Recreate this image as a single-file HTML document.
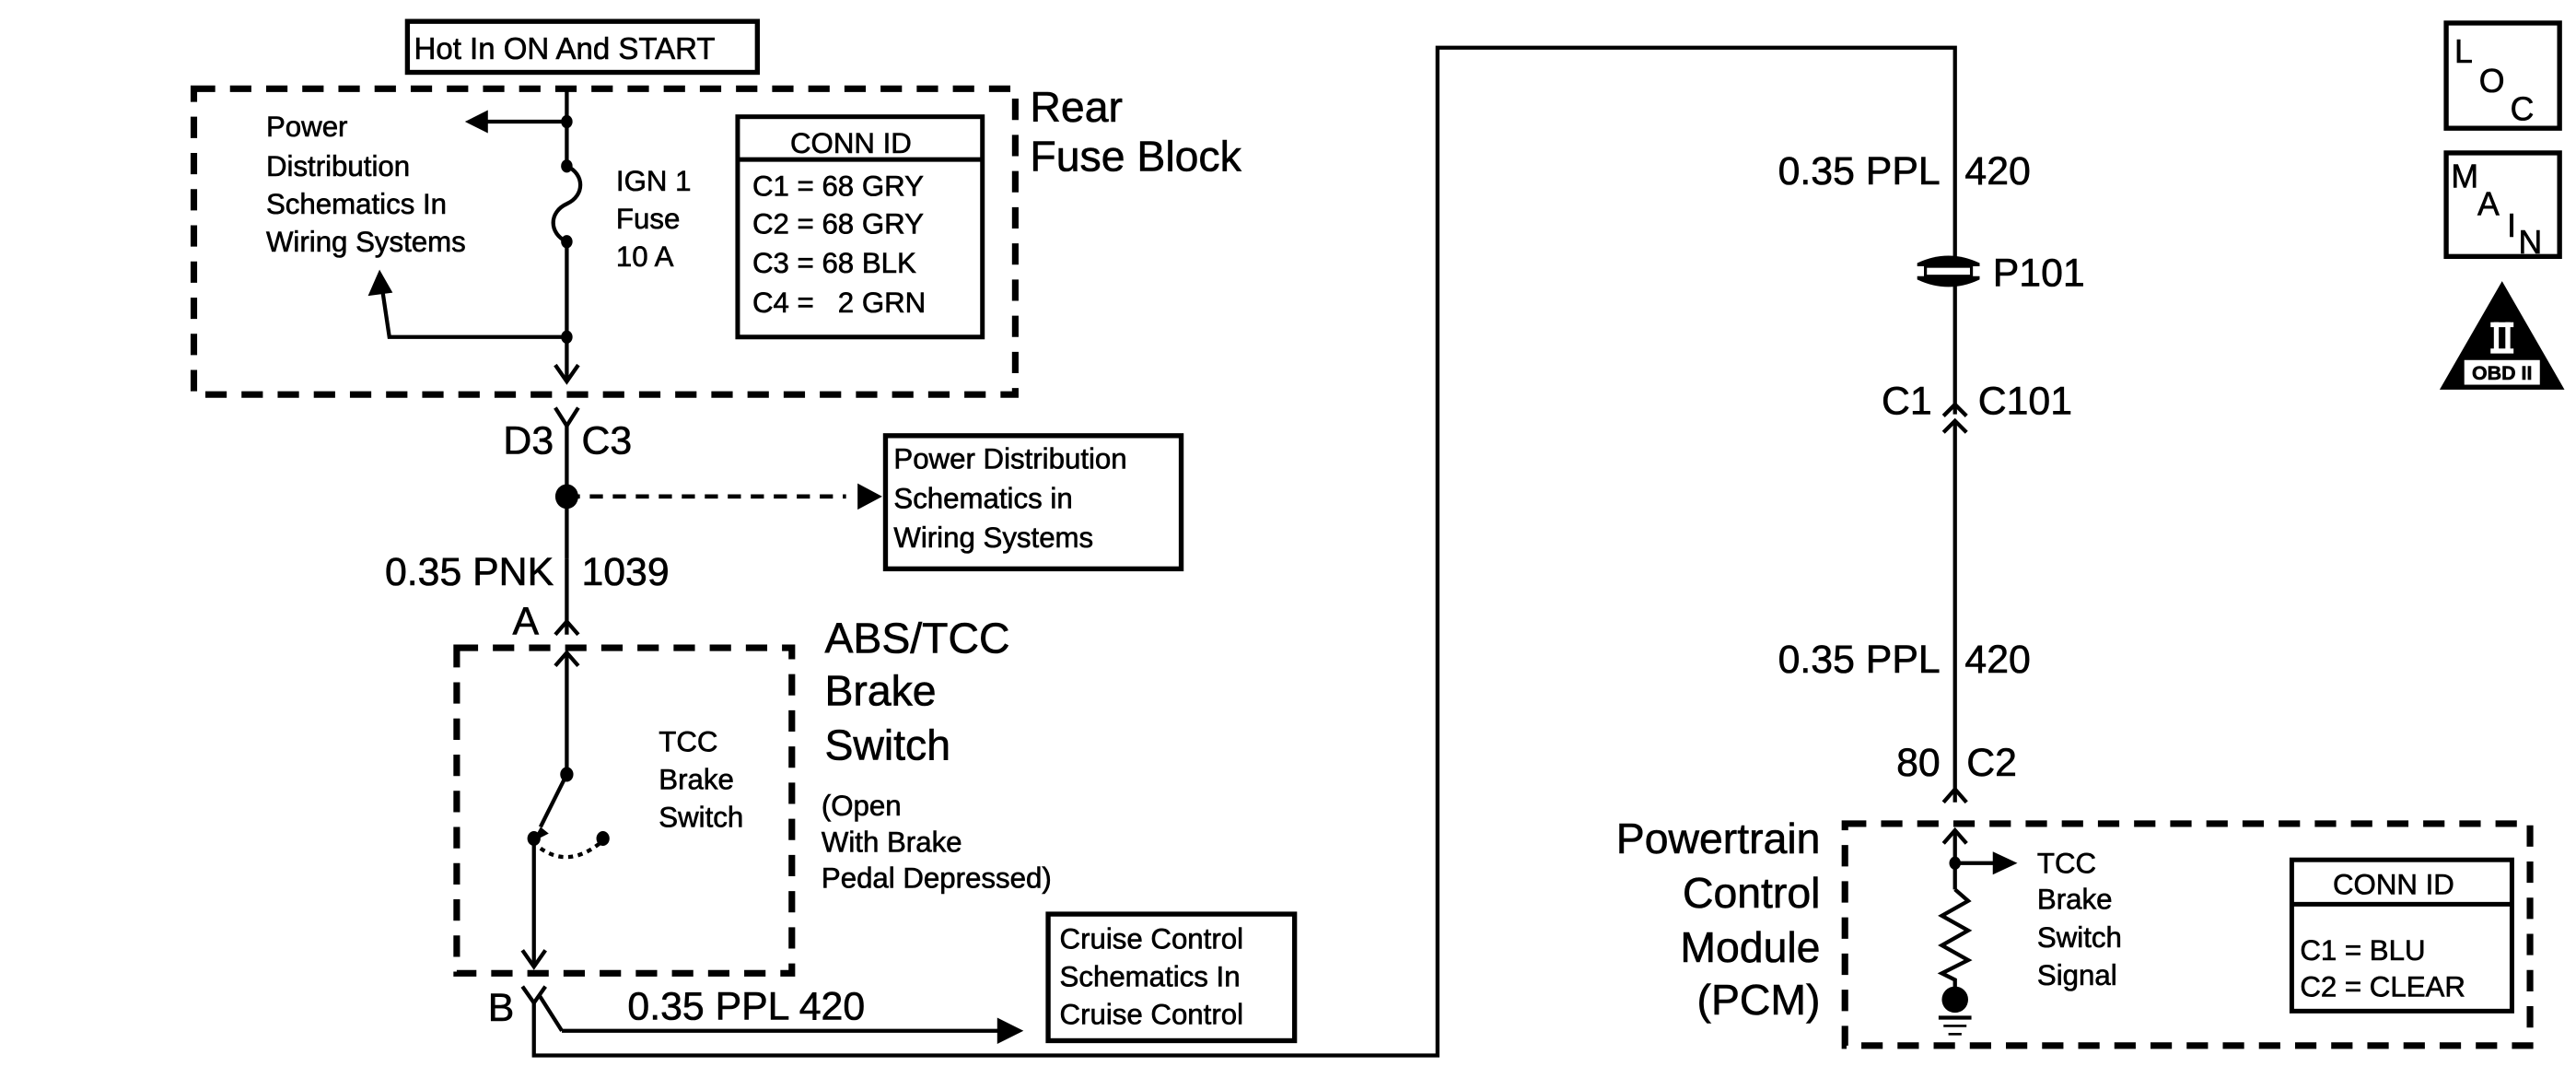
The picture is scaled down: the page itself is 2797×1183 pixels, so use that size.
<!DOCTYPE html>
<html><head><meta charset="utf-8"><style>
html,body{margin:0;padding:0;background:#fff;}
svg{display:block;}
text{font-family:"Liberation Sans",sans-serif;fill:#000;stroke:#000;stroke-width:0.35;}
</style></head><body>
<svg width="2797" height="1183" viewBox="0 0 1568 663" preserveAspectRatio="none" xmlns="http://www.w3.org/2000/svg">
<g fill="none" stroke="#000" stroke-width="2.4">
<rect x="248" y="13" width="213" height="31" stroke-width="3"/>
<rect x="118" y="54" width="500" height="186" stroke-width="4" stroke-dasharray="13 9"/>
<line x1="345" y1="54" x2="345" y2="101"/>
<path d="M345,101 C356,106 356,119 345,124 C334,129 334,142 345,147"/>
<line x1="345" y1="147" x2="345" y2="231"/>
<polyline points="338,222 345,232 352,222"/>
<line x1="345" y1="74" x2="295" y2="74"/>
<polyline points="345,205 237,205 233,178"/>
<rect x="449" y="71" width="149" height="134" stroke-width="2.8"/>
<line x1="449" y1="97" x2="598" y2="97" stroke-width="2.8"/>
<polyline points="338,248 345,259 352,248"/>
<line x1="345" y1="258" x2="345" y2="340"/>
<line x1="345" y1="302" x2="515" y2="302" stroke-dasharray="8 6" stroke-width="2.6"/>
<rect x="539" y="265" width="180" height="81" stroke-width="3"/>
<line x1="345" y1="340" x2="345" y2="386"/>
<polyline points="338,386 345,378 352,386"/>
<rect x="278" y="394" width="204" height="198" stroke-width="4" stroke-dasharray="13 9"/>
<polyline points="338,405 345,397 352,405"/>
<line x1="345" y1="397" x2="345" y2="471"/>
<line x1="345" y1="471" x2="329" y2="503"/>
<line x1="325" y1="510" x2="325" y2="587"/>
<polyline points="318,578 325,588 332,578"/>
<path d="M329,516 Q346,528 365,513" stroke-dasharray="3 3"/>
<polyline points="318,600 325,610 332,600"/>
<line x1="328" y1="605" x2="342" y2="627"/>
<line x1="342" y1="627" x2="608" y2="627"/>
<polyline points="325,610 325,642 875,642 875,29 1190,29 1190,160"/>
<rect x="638" y="556" width="150" height="77" stroke-width="3"/>
<line x1="1190" y1="170" x2="1190" y2="252"/>
<polyline points="1183,253 1190,246 1197,253"/>
<polyline points="1183,263 1190,256 1197,263"/>
<line x1="1190" y1="256" x2="1190" y2="488"/>
<polyline points="1183,488 1190,480 1197,488"/>
<rect x="1123" y="501" width="417" height="135" stroke-width="4" stroke-dasharray="13 9"/>
<polyline points="1183,513 1190,505 1197,513"/>
<line x1="1190" y1="505" x2="1190" y2="541"/>
<line x1="1190" y1="525" x2="1214" y2="525"/>
<polyline points="1190,541 1198,548 1182,557 1198,566 1182,575 1198,584 1182,592 1190,596 1190,605"/>
<line x1="1180" y1="619" x2="1200" y2="619"/>
<line x1="1183" y1="624" x2="1197" y2="624" stroke-width="1.5"/>
<line x1="1186" y1="629" x2="1194" y2="629" stroke-width="1.5"/>
<rect x="1395" y="523" width="134" height="92" stroke-width="2.8"/>
<line x1="1395" y1="550" x2="1529" y2="550" stroke-width="2.8"/>
<rect x="1489" y="14" width="69" height="64" stroke-width="3"/>
<rect x="1489" y="93" width="69" height="63" stroke-width="3"/>
</g>
<g fill="#000">
<path d="M283,74 L297,67 L297,81 Z"/>
<path d="M231,164 L224,180 L239,178 Z"/>
<path d="M537,302 L522,294 L522,310 Z"/>
<path d="M623,627 L607,619 L607,635 Z"/>
<path d="M1228,525 L1213,518 L1213,532 Z"/>
<path d="M329,503 L324,512 L334,507 Z"/>
<ellipse cx="345" cy="74" rx="3.5" ry="4"/>
<ellipse cx="345" cy="101" rx="3.5" ry="4"/>
<ellipse cx="345" cy="147" rx="3.5" ry="4"/>
<ellipse cx="345" cy="205" rx="3.5" ry="4"/>
<ellipse cx="345" cy="302" rx="7" ry="7.5"/>
<ellipse cx="345" cy="471" rx="4" ry="4.5"/>
<ellipse cx="325" cy="510" rx="4" ry="4.5"/>
<ellipse cx="367" cy="510" rx="4" ry="4.5"/>
<ellipse cx="1190" cy="525" rx="3.5" ry="4"/>
<ellipse cx="1190" cy="608" rx="8" ry="8"/>
<path d="M1167,160 Q1186,151 1205,160 L1205,162 L1167,162 Z"/>
<path d="M1167,168 L1205,168 L1205,170 Q1186,179 1167,170 Z"/>
<rect x="1172" y="162" width="28" height="6" fill="none" stroke="#000" stroke-width="1.8"/>
<path d="M1523,171 L1561,237 L1485,237 Z"/>
</g>
<g font-size="17.5">
<text x="252" y="36" font-size="18.5">Hot In ON And START</text>
<text x="162" y="83">Power</text>
<text x="162" y="107">Distribution</text>
<text x="162" y="130">Schematics In</text>
<text x="162" y="153">Wiring Systems</text>
<text x="375" y="116">IGN 1</text>
<text x="375" y="139">Fuse</text>
<text x="375" y="162">10 A</text>
<text x="481" y="93">CONN ID</text>
<text x="458" y="119">C1 = 68 GRY</text>
<text x="458" y="142">C2 = 68 GRY</text>
<text x="458" y="166">C3 = 68 BLK</text>
<text x="458" y="190" xml:space="preserve">C4 =   2 GRN</text>
<text x="544" y="285">Power Distribution</text>
<text x="544" y="309">Schematics in</text>
<text x="544" y="333">Wiring Systems</text>
<text x="401" y="457">TCC</text>
<text x="401" y="480">Brake</text>
<text x="401" y="503">Switch</text>
<text x="500" y="496">(Open</text>
<text x="500" y="518">With Brake</text>
<text x="500" y="540">Pedal Depressed)</text>
<text x="645" y="577">Cruise Control</text>
<text x="645" y="600">Schematics In</text>
<text x="645" y="623">Cruise Control</text>
<text x="1240" y="531">TCC</text>
<text x="1240" y="553">Brake</text>
<text x="1240" y="576">Switch</text>
<text x="1240" y="599">Signal</text>
<text x="1420" y="544">CONN ID</text>
<text x="1400" y="584">C1 = BLU</text>
<text x="1400" y="606">C2 = CLEAR</text>
</g>
<g font-size="26">
<text x="627" y="74">Rear</text>
<text x="627" y="104">Fuse Block</text>
<text x="502" y="397">ABS/TCC</text>
<text x="502" y="429">Brake</text>
<text x="502" y="462">Switch</text>
<text x="1108" y="519" text-anchor="end">Powertrain</text>
<text x="1108" y="552" text-anchor="end">Control</text>
<text x="1108" y="585" text-anchor="end">Module</text>
<text x="1108" y="617" text-anchor="end">(PCM)</text>
</g>
<g font-size="24">
<text x="337" y="276" text-anchor="end">D3</text>
<text x="354" y="276">C3</text>
<text x="337" y="356" text-anchor="end">0.35 PNK</text>
<text x="354" y="356">1039</text>
<text x="312" y="386">A</text>
<text x="297" y="621">B</text>
<text x="382" y="620">0.35 PPL 420</text>
<text x="1181" y="112" text-anchor="end">0.35 PPL</text>
<text x="1196" y="112">420</text>
<text x="1213" y="174">P101</text>
<text x="1176" y="252" text-anchor="end">C1</text>
<text x="1204" y="252">C101</text>
<text x="1181" y="409" text-anchor="end">0.35 PPL</text>
<text x="1196" y="409">420</text>
<text x="1181" y="472" text-anchor="end">80</text>
<text x="1197" y="472">C2</text>
</g>
<g font-size="20">
<text x="1494" y="38">L</text>
<text x="1509" y="56">O</text>
<text x="1528" y="73">C</text>
<text x="1492" y="114">M</text>
<text x="1508" y="131">A</text>
<text x="1526" y="144">I</text>
<text x="1533" y="154">N</text>
</g>
<rect x="1516" y="196" width="14" height="3" fill="#fff"/>
<rect x="1516" y="212" width="14" height="3" fill="#fff"/>
<rect x="1518" y="196" width="3" height="18" fill="#fff"/>
<rect x="1525" y="196" width="3" height="18" fill="#fff"/>
<rect x="1500" y="219" width="46" height="15" fill="#fff"/>
<text x="1523" y="231" font-size="12" text-anchor="middle" font-weight="bold">OBD II</text>
</svg>
</body></html>
